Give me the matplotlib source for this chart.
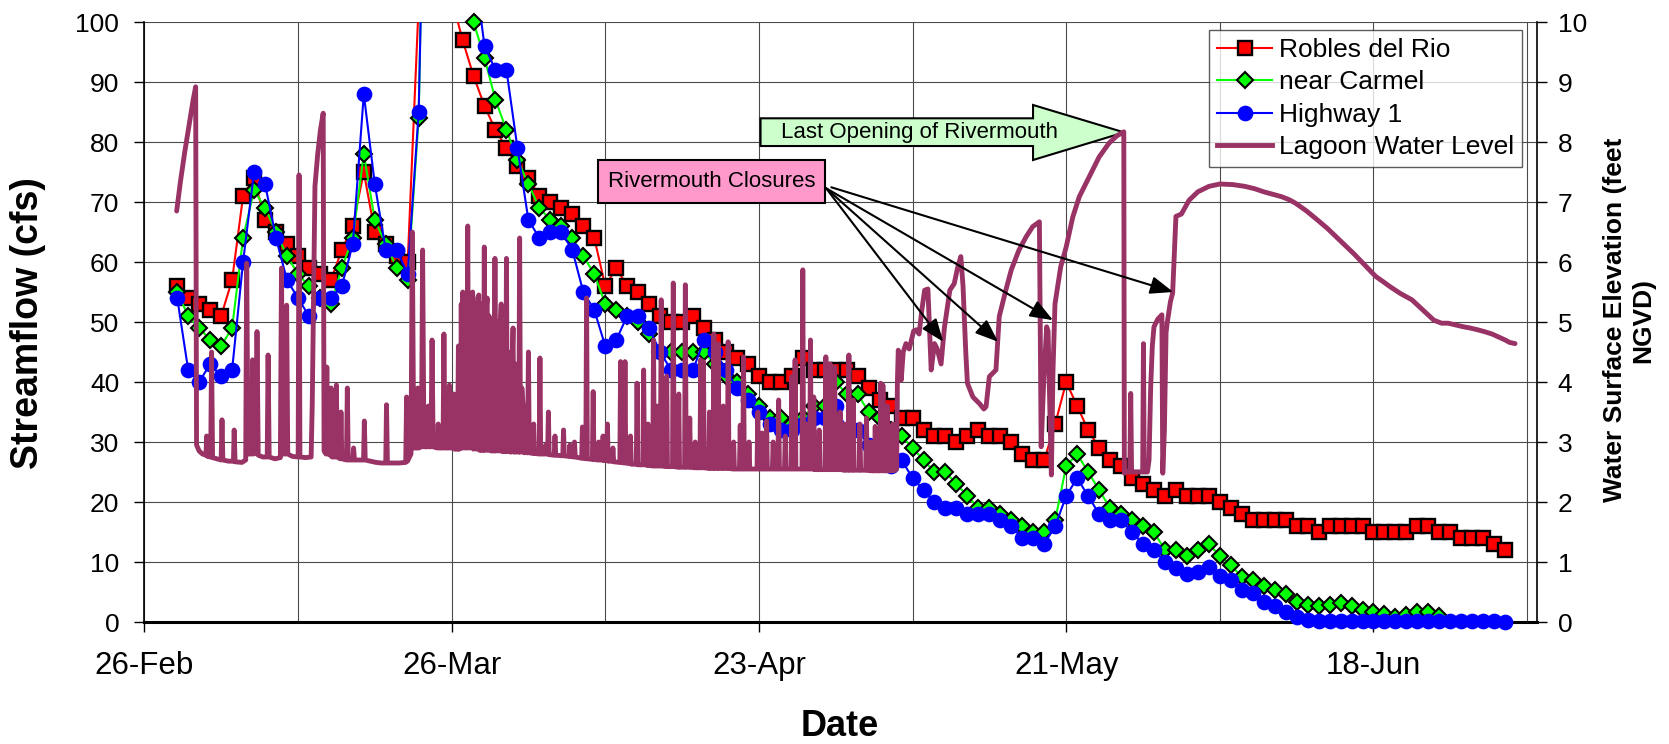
import datetime as dt
import numpy as np
import matplotlib
matplotlib.use("Agg")
import matplotlib.pyplot as plt
import matplotlib.dates as mdates
from matplotlib.lines import Line2D
from matplotlib.patches import Polygon, Rectangle, FancyArrowPatch

plt.rcParams['font.family'] = ['Liberation Sans', 'DejaVu Sans']

# ---------------- data ----------------
start_date = dt.date(2003, 2, 26)          # day 0 of the axis
tick_days = [0, 28, 56, 84, 112]
grid_days = [0, 14, 28, 42, 56, 70, 84, 98, 112, 126]

robles_days = list(range(3, 125))
robles = [56, 54, 53, 52, 51, 57, 71, 74, 67, 65,
          63, 61, 59, 58, 57, 62, 66, 75, 65, 63,
          61, 60, 103, 200, 160, 104, 97, 91, 86, 82,
          79, 76, 74, 71, 70, 69, 68, 66, 64, 56,
          59, 56, 55, 53, 51, 50, 50, 51, 49, 47,
          45, 44, 43, 41, 40, 40, 41, 44, 42, 42,
          42, 42, 41, 39, 37, 36, 34, 34, 32, 31,
          31, 30, 31, 32, 31, 31, 30, 28, 27, 27,
          33, 40, 36, 32, 29, 27, 26, 24, 23, 22,
          21, 22, 21, 21, 21, 20, 19, 18, 17, 17,
          17, 17, 16, 16, 15, 16, 16, 16, 16, 15,
          15, 15, 15, 16, 16, 15, 15, 14, 14, 14,
          13, 12]

carmel_days = list(range(3, 119))
carmel = [55, 51, 49, 47, 46, 49, 64, 72, 69, 65,
          61, 58, 56, 54, 53, 59, 64, 78, 67, 63,
          59, 57, 84, 180, 220, 160, 110, 100, 94, 87,
          82, 77, 73, 69, 67, 66, 64, 61, 58, 53,
          52, 51, 50, 48, 45, 45, 45, 45, 45, 43,
          41, 40, 38, 36, 34, 34, 33, 34, 36, 36,
          40, 38, 38, 35, 34, 32, 31, 29, 27, 25,
          25, 23, 21, 19, 19, 18, 17, 16, 15, 15,
          17, 26, 28, 25, 22, 19, 18, 17, 16, 15,
          12, 12, 11, 12, 13, 11, 9.5, 7.5, 7, 6,
          5.3, 4.7, 3.4, 2.8, 2.6, 2.8, 3.1, 2.6, 2.0, 1.6,
          1.3, 0.8, 1.2, 1.6, 1.6, 1.0]

highway_days = list(range(3, 125))
highway = [54, 42, 40, 43, 41, 42, 60, 75, 73, 64,
           57, 54, 51, 54, 54, 56, 63, 88, 73, 62,
           62, 58, 85, 170, 230, 200, 150, 110, 96, 92,
           92, 79, 67, 64, 65, 65, 62, 55, 52, 46,
           47, 51, 51, 49, 45, 42, 42, 42, 47, 45,
           42, 39, 37, 35, 33, 32, 32, 33, 34, 34,
           36, 32, 32, 29.5, 28.4, 26, 27, 24, 22, 20,
           19, 19, 18, 18, 18, 17, 16, 14, 14, 13,
           16, 21, 24, 21, 18, 17, 17, 15, 13, 12,
           10, 9, 8, 8.3, 9.2, 7.7, 7, 5.4, 4.8, 3.4,
           2.7, 1.7, 0.9, 0.3, 0.2, 0.2, 0.1, 0.2, 0.2, 0.1,
           0.1, 0.2, 0.1, 0.1, 0.1, 0.2, 0.1, 0.1, 0.1, 0.1,
           0.1, 0.0]

# lagoon water level: (day, feet NGVD)
lagoon = [
    (2.95, 6.85), (3.3, 7.35), (3.7, 7.85), (4.1, 8.3), (4.45, 8.7), (4.68, 8.92), (4.76, 2.95),
    (5.0, 2.85), (5.3, 2.8), (5.62, 2.78), (5.68, 3.1), (5.76, 2.76), (6.05, 2.75), (6.13, 4.5), (6.22, 2.74),
    (6.6, 2.72), (7.0, 2.7), (7.08, 3.37), (7.16, 2.7), (7.7, 2.68), (8.12, 2.68), (8.19, 3.2), (8.27, 2.67),
    (8.9, 2.66), (9.24, 2.7), (9.33, 5.98), (9.45, 2.8), (9.78, 2.8), (9.87, 4.37), (9.96, 2.8),
    (10.18, 2.82), (10.27, 4.84), (10.38, 2.78), (10.8, 2.75), (11.2, 2.75), (11.28, 4.45), (11.38, 2.75),
    (11.9, 2.72), (12.4, 2.74), (12.5, 5.9), (12.62, 2.8), (12.88, 2.8), (12.97, 5.28), (13.07, 2.8),
    (13.5, 2.76), (14.02, 2.75), (14.1, 7.45), (14.18, 2.75), (14.7, 2.74), (15.2, 2.75), (15.3, 3.6),
    (15.55, 7.26), (15.8, 7.8), (16.05, 8.2), (16.3, 8.48), (16.38, 2.85),
    (16.55, 2.8), (16.63, 4.25), (16.72, 2.8), (16.95, 2.78), (17.02, 3.9), (17.1, 2.75),
    (17.42, 2.75), (17.5, 3.95), (17.58, 2.75), (17.85, 2.72), (17.92, 3.5), (18.0, 2.72),
    (18.42, 2.7), (18.5, 3.9), (18.58, 2.7), (19.0, 2.7), (19.07, 2.9), (19.15, 2.7),
    (19.98, 2.7), (20.05, 3.35), (20.13, 2.7), (20.6, 2.68), (21.1, 2.66), (21.6, 2.65),
    (22.0, 2.65), (22.07, 3.62), (22.15, 2.65), (22.7, 2.65), (23.2, 2.65), (23.82, 2.66),
    (23.9, 3.75), (23.98, 2.68), (24.3, 2.8), (24.42, 6.5), (24.55, 2.9),
    (24.85, 2.9), (24.92, 3.9), (25.0, 2.9), (25.25, 2.92), (25.36, 6.2), (25.48, 2.92),
    (25.8, 2.92), (25.88, 3.6), (25.96, 2.92), (26.12, 2.92), (26.22, 4.7), (26.32, 2.92),
    (26.7, 2.9), (26.78, 3.3), (26.86, 2.9), (27.22, 2.9), (27.3, 4.8), (27.4, 2.9),
    (27.72, 2.9), (27.8, 3.95), (27.88, 2.9), (28.12, 2.9), (28.2, 3.8), (28.28, 2.88),
    (28.55, 2.88), (28.62, 4.6), (28.7, 2.88), (28.82, 2.9), (28.88, 5.3), (28.95, 2.9),
    (29.02, 5.5), (29.1, 2.9), (29.2, 5.2), (29.28, 2.9), (29.38, 2.9), (29.47, 6.6), (29.56, 2.9),
    (29.65, 5.4), (29.74, 2.9), (29.83, 5.35), (29.92, 5.5), (30.0, 2.88), (30.1, 5.2),
    (30.2, 5.3), (30.28, 2.88), (30.38, 5.4), (30.48, 5.45), (30.56, 2.86), (30.66, 5.3),
    (30.75, 2.86), (30.9, 2.86), (30.98, 6.25), (31.06, 2.86), (31.15, 5.2),
    (31.24, 5.4), (31.32, 2.86), (31.42, 5.1), (31.52, 4.7), (31.6, 2.85), (31.7, 5.0),
    (31.78, 2.85), (31.87, 2.85), (31.95, 6.06), (32.03, 2.85), (32.12, 4.8),
    (32.22, 5.0), (32.3, 2.85), (32.42, 4.9), (32.52, 5.3), (32.6, 2.84), (32.72, 4.6),
    (32.8, 2.84), (32.92, 2.84), (33.0, 6.06), (33.08, 2.84), (33.18, 4.5),
    (33.3, 4.4), (33.38, 2.83), (33.5, 4.2), (33.6, 4.9), (33.68, 2.83), (33.8, 4.3),
    (33.9, 2.83), (34.0, 3.8), (34.12, 2.83), (34.2, 6.4), (34.28, 2.83), (34.4, 3.9),
    (34.52, 3.6), (34.6, 2.82), (34.75, 3.4), (34.85, 2.82), (34.92, 2.82), (35.0, 4.5), (35.08, 2.82),
    (35.41, 2.81), (35.48, 3.3), (35.55, 2.81), (35.98, 2.8), (36.05, 4.4), (36.12, 2.8),
    (36.5, 2.8), (36.57, 2.95), (36.64, 2.8), (36.75, 2.8), (36.82, 3.5), (36.89, 2.79),
    (37.35, 2.78), (37.42, 3.1), (37.49, 2.78), (38.13, 2.77), (38.2, 3.2), (38.27, 2.77),
    (38.71, 2.76), (38.78, 2.95), (38.85, 2.76), (39.13, 2.75), (39.2, 3.0), (39.27, 2.75),
    (39.85, 2.73), (39.92, 3.25), (39.99, 2.73), (40.23, 2.72), (40.3, 5.4), (40.37, 2.72),
    (40.83, 2.71), (40.9, 3.84), (40.97, 2.71), (41.33, 2.7), (41.4, 3.0), (41.47, 2.7),
    (41.73, 2.7), (41.8, 3.1), (41.87, 2.69), (42.13, 2.69), (42.2, 3.3), (42.27, 2.68),
    (42.63, 2.68), (42.7, 2.9), (42.77, 2.67), (43.33, 2.66), (43.4, 4.34), (43.47, 2.66),
    (43.73, 2.65), (43.8, 4.34), (43.87, 2.65), (44.23, 2.64), (44.3, 3.1), (44.37, 2.63),
    (44.83, 2.63), (44.9, 3.98), (44.97, 2.62), (45.43, 2.62), (45.5, 4.2), (45.57, 2.62),
    (45.83, 2.61), (45.9, 3.3), (45.97, 2.61), (46.33, 2.6), (46.4, 4.7), (46.47, 2.6),
    (46.68, 2.6), (46.75, 3.6), (46.82, 2.6), (47.03, 2.6), (47.1, 5.37), (47.17, 2.6),
    (47.53, 2.59), (47.6, 4.1), (47.67, 2.59), (48.13, 2.59), (48.2, 5.65), (48.27, 2.59),
    (48.63, 2.58), (48.7, 3.8), (48.77, 2.58), (49.23, 2.58), (49.3, 5.62), (49.37, 2.58),
    (49.63, 2.58), (49.7, 3.4), (49.77, 2.58), (50.13, 2.57), (50.2, 3.0), (50.27, 2.57),
    (50.63, 2.57), (50.7, 4.37), (50.77, 2.57), (50.88, 2.57), (50.95, 4.34), (51.02, 2.57),
    (51.43, 2.56), (51.5, 3.5), (51.57, 2.56), (51.83, 2.56), (51.9, 4.8), (51.97, 2.56),
    (52.23, 2.56), (52.3, 4.64), (52.37, 2.56), (52.68, 2.56), (52.75, 3.6), (52.82, 2.56),
    (53.13, 2.56), (53.2, 4.67), (53.27, 2.56), (53.63, 2.55), (53.7, 3.0), (53.77, 2.55),
    (54.23, 2.55), (54.3, 3.28), (54.37, 2.55), (54.53, 2.55), (54.6, 4.42), (54.67, 2.55),
    (55.03, 2.55), (55.1, 3.0), (55.17, 2.55), (55.83, 2.55), (55.9, 3.5), (55.97, 2.55),
    (56.23, 2.55), (56.3, 3.15), (56.37, 2.55), (56.63, 2.55), (56.7, 3.35), (56.77, 2.55),
    (57.23, 2.55), (57.3, 3.0), (57.37, 2.55), (57.73, 2.55), (57.8, 3.7), (57.87, 2.55),
    (58.33, 2.55), (58.4, 3.1), (58.47, 2.55), (58.93, 2.55), (59.0, 4.09), (59.07, 2.55),
    (59.23, 2.55), (59.3, 4.37), (59.37, 2.55), (59.93, 2.55), (60.0, 5.87), (60.07, 2.55),
    (60.28, 2.55), (60.35, 3.3), (60.42, 2.55), (60.63, 2.55), (60.7, 4.7), (60.77, 2.55),
    (60.93, 2.55), (61.0, 3.75), (61.07, 2.54), (61.43, 2.54), (61.5, 3.2), (61.57, 2.54),
    (62.03, 2.54), (62.1, 4.42), (62.17, 2.54), (62.43, 2.54), (62.5, 4.3), (62.57, 2.54),
    (62.83, 2.54), (62.9, 4.25), (62.97, 2.54), (63.33, 2.54), (63.4, 3.5), (63.47, 2.54),
    (63.73, 2.53), (63.8, 3.3), (63.87, 2.53), (64.13, 2.53), (64.2, 4.45), (64.27, 2.53),
    (64.53, 2.53), (64.6, 3.7), (64.67, 2.53), (65.13, 2.53), (65.2, 3.3), (65.27, 2.53),
    (65.73, 2.53), (65.8, 3.4), (65.87, 2.53), (66.13, 2.52), (66.2, 3.0), (66.27, 2.52),
    (66.53, 2.52), (66.6, 3.26), (66.67, 2.52), (67.03, 2.52), (67.1, 3.98), (67.17, 2.52),
    (67.23, 2.52), (67.3, 3.95), (67.37, 2.52), (67.63, 2.52), (67.7, 3.6), (67.77, 2.52),
    (68.13, 2.52), (68.2, 3.3), (68.27, 2.52), (68.55, 2.55),
    (68.62, 4.0), (68.7, 4.53), (68.97, 4.03), (69.15, 4.5), (69.4, 4.64), (69.7, 4.55),
    (69.9, 4.7), (70.1, 4.85), (70.34, 4.87), (70.6, 4.8), (70.85, 5.2), (71.1, 5.53),
    (71.4, 5.55), (71.7, 4.2), (72.0, 4.64), (72.25, 4.55), (72.6, 4.3), (72.9, 4.9),
    (73.4, 5.53), (73.8, 5.64), (74.1, 5.9), (74.4, 6.09), (74.6, 5.6), (74.85, 4.5),
    (75.0, 3.98), (75.5, 3.75), (76.1, 3.64), (76.5, 3.55), (76.7, 3.59), (77.0, 4.09),
    (77.6, 4.2), (77.9, 5.09), (78.5, 5.53), (79.0, 5.87), (79.7, 6.2), (80.35, 6.42),
    (80.95, 6.59), (81.56, 6.67), (81.72, 2.92), (81.95, 4.0), (82.22, 4.92), (82.35, 4.85),
    (82.65, 2.45), (82.8, 4.2), (82.98, 5.3), (83.5, 5.92), (84.0, 6.25), (84.6, 6.75),
    (85.2, 7.09), (86.1, 7.42), (87.0, 7.75), (87.9, 7.98), (88.6, 8.1), (89.25, 8.17),
    (89.3, 2.48), (89.5, 2.5), (89.8, 2.5), (89.88, 3.81), (89.96, 2.5), (90.5, 2.5),
    (90.97, 2.5), (91.04, 4.64), (91.11, 2.5), (91.4, 2.5), (91.55, 2.7), (91.7, 3.92),
    (91.85, 4.6), (92.0, 4.92), (92.35, 5.05), (92.72, 5.12), (92.8, 2.48), (92.95, 3.2),
    (93.1, 4.82), (93.2, 4.98), (93.5, 5.34), (93.7, 5.48), (94.0, 6.76),
    (94.5, 6.8), (95.2, 7.03), (96.0, 7.17), (97.0, 7.26), (98.0, 7.3), (99.2, 7.29),
    (100.3, 7.26), (101.2, 7.22), (102.0, 7.17), (102.8, 7.13), (103.6, 7.09), (104.3, 7.04),
    (104.9, 6.98), (105.9, 6.85), (106.9, 6.7), (107.8, 6.56), (108.6, 6.42), (109.4, 6.28),
    (110.2, 6.14), (111.2, 5.95), (112.2, 5.76), (112.9, 5.67), (113.5, 5.59), (114.5, 5.47),
    (115.5, 5.37), (116.5, 5.2), (117.5, 5.03), (118.2, 4.98), (118.8, 4.98), (119.5, 4.95),
    (120.2, 4.92), (120.8, 4.9), (121.5, 4.87), (122.1, 4.84), (122.8, 4.8), (123.4, 4.75),
    (124.0, 4.7), (124.4, 4.66), (124.9, 4.64),
]

series_labels = ["Robles del Rio", "near Carmel", "Highway 1", "Lagoon Water Level"]
closure_targets = [(72.8, 4.67), (77.8, 4.67), (82.8, 5.03), (93.76, 5.5)]  # (day, ft)
last_opening = (89.28, 8.16)

# ---------------- figure ----------------
W_PX, H_PX = 1669, 744
fig = plt.figure(figsize=(W_PX / 100, H_PX / 100), dpi=100)
left_px, right_px, top_px, bot_px = 144.3, 1537.0, 22.0, 622.0
ax = fig.add_axes([left_px / W_PX, 1 - bot_px / H_PX,
                   (right_px - left_px) / W_PX, (bot_px - top_px) / H_PX])
ax2 = ax.twinx()

x0 = mdates.date2num(start_date)
def X(days):
    return x0 + np.asarray(days, dtype=float)

grid_col = '#4a4a4a'
red, green, blue, plum = '#FF0000', '#00FF00', '#0000FF', '#993366'
SQ_MS, D_MS, O_MS = 9.6, 8.2, 10.3

def flow(days, vals, color, marker, ms, mec, mew):
    v = np.asarray(vals, dtype=float)
    ax.plot(X(days), v, color=color, lw=1.5, zorder=3)
    vm = np.where(v <= 100, v, np.nan)
    ax.plot(X(days), vm, ls='none', marker=marker, ms=ms, mfc=color,
            mec=mec, mew=mew, zorder=3, clip_on=False)

flow(robles_days, robles, red, 's', SQ_MS, 'black', 1.7)
flow(carmel_days, carmel, green, 'D', D_MS, 'black', 1.5)
flow(highway_days, highway, blue, 'o', O_MS, blue, 1.0)

lag_d, lag_f = zip(*lagoon)
ax2.plot(X(lag_d), lag_f, color=plum, lw=3.5, solid_joinstyle='round',
         solid_capstyle='round', zorder=4)

# axes limits / ticks
ax.set_xlim(x0, x0 + 126.9)
ax.set_ylim(0, 100)
ax2.set_ylim(0, 10)
ax.set_yticks(range(0, 101, 10))
ax2.set_yticks(range(0, 11))
ax.set_xticks(X(tick_days))
ax.set_xticks(X(grid_days), minor=True)
ax.xaxis.set_major_formatter(mdates.DateFormatter('%d-%b'))

ax.grid(True, which='both', axis='x', color=grid_col, lw=0.8)
ax.grid(True, which='major', axis='y', color=grid_col, lw=0.8)
ax.set_axisbelow(True)

ax.tick_params(axis='y', which='major', direction='out', length=7, width=1,
               labelsize=19, pad=11)
ax.tick_params(axis='x', which='major', direction='out', length=7, width=1,
               labelsize=22.5, pad=14)
ax.tick_params(axis='x', which='minor', length=0)
ax2.tick_params(axis='y', direction='out', length=7, width=1, labelsize=19, pad=8)

for s in ['top', 'right']:
    ax.spines[s].set_visible(False)
ax.spines['left'].set_linewidth(1.2)
ax.spines['bottom'].set_linewidth(2.2)
for s in ['top', 'left', 'bottom']:
    ax2.spines[s].set_visible(False)
ax2.spines['right'].set_linewidth(1.2)

# axis titles
fig.text(28 / W_PX, 1 - 323 / H_PX, "Streamflow (cfs)", rotation=90, ha='center',
         va='center', fontsize=27, fontweight='bold')
fig.text(840 / W_PX, 1 - 726 / H_PX, "Date", ha='center', va='center',
         fontsize=26, fontweight='bold')
fig.text(1629 / W_PX, 1 - 320 / H_PX, "Water Surface Elevation (feet\nNGVD)",
         rotation=90, ha='center', va='center', multialignment='center',
         fontsize=19, fontweight='bold', linespacing=1.2)

# annotations (in lagoon axis data coordinates)
T = ax2.transData
box = Rectangle((x0 + 41.32, 6.99), 20.68, 0.71, fc='#FF99CC', ec='black', lw=1.5,
                transform=T, zorder=6, clip_on=False)
ax2.add_patch(box)
ax2.text(x0 + 51.66, 7.35, "Rivermouth Closures", ha='center', va='center',
         fontsize=16, zorder=7)
starts = [(62.12, 7.23), (62.12, 7.23), (62.12, 7.23), (62.6, 7.245)]
for (sd, sf), (td, tf) in zip(starts, closure_targets):
    arr = FancyArrowPatch((x0 + sd, sf), (x0 + td, tf),
                          arrowstyle='-|>,head_length=0.7,head_width=0.27',
                          mutation_scale=20, lw=1.5, color='black',
                          shrinkA=0, shrinkB=0, transform=T, zorder=7)
    ax2.add_patch(arr)

tip_d, tip_f = last_opening
poly = Polygon([(x0 + 56.15, 7.933), (x0 + 56.15, 8.395), (x0 + 80.98, 8.395),
                (x0 + 80.98, 8.617), (x0 + tip_d, tip_f), (x0 + 80.98, 7.70),
                (x0 + 80.98, 7.933)], closed=True, fc='#CCFFCC', ec='black',
               lw=1.5, transform=T, zorder=3)
ax2.add_patch(poly)
ax2.text(x0 + 70.6, 8.16, "Last Opening of Rivermouth", ha='center', va='center',
         fontsize=16, zorder=5)

# legend
handles = [
    Line2D([], [], color=red, lw=1.5, marker='s', ms=SQ_MS, mfc=red, mec='black', mew=1.7),
    Line2D([], [], color=green, lw=1.5, marker='D', ms=D_MS, mfc=green, mec='black', mew=1.5),
    Line2D([], [], color=blue, lw=1.5, marker='o', ms=O_MS, mfc=blue, mec=blue),
    Line2D([], [], color=plum, lw=3.5),
]
leg = ax2.legend(handles, series_labels, loc='upper right',
                 bbox_to_anchor=(1522 / W_PX, 1 - 30 / H_PX),
                 bbox_transform=fig.transFigure, fontsize=19, frameon=True,
                 fancybox=False, shadow=False, borderpad=0.3, labelspacing=0.32,
                 handlelength=2.1, handletextpad=0.25, borderaxespad=0,
                 numpoints=1)
leg.get_frame().set_edgecolor('#333333')
leg.get_frame().set_linewidth(1.0)
leg.set_zorder(20)

fig.savefig("out.png", dpi=100)
